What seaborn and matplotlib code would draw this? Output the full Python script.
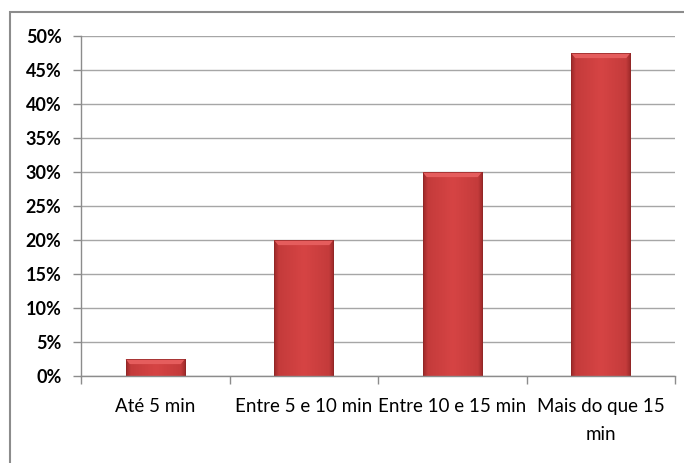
import numpy as np
import pandas as pd
import matplotlib
matplotlib.use("Agg")
import matplotlib.pyplot as plt
import seaborn as sns
from matplotlib.patches import Rectangle, Polygon
from matplotlib.colors import LinearSegmentedColormap
from matplotlib.ticker import FixedLocator, PercentFormatter

categories = ["Até 5 min", "Entre 5 e 10 min", "Entre 10 e 15 min", "Mais do que 15\nmin"]
values = [2.5, 20.0, 30.0, 47.5]
y_ticks = [0, 5, 10, 15, 20, 25, 30, 35, 40, 45, 50]

sns.set_theme(style="white")
plt.rcParams["font.family"] = ["Lato", "DejaVu Sans"]

fig = plt.figure(figsize=(6.84, 4.63), dpi=100)
ax = fig.add_axes([81 / 684, 1 - 376 / 463, (675 - 81) / 684, (376 - 36) / 463])

df = pd.DataFrame({"cat": categories, "val": values})
sns.barplot(data=df, x="cat", y="val", ax=ax, width=0.40, color="#CC3D3D",
            edgecolor="none", saturation=1)

# shaded fill for each bar: darker sides, lighter middle, bright bevel on top
cmap = LinearSegmentedColormap.from_list(
    "bar", [(0.0, "#9A2828"), (0.08, "#C43B3B"), (0.5, "#D64444"),
            (0.92, "#C43B3B"), (1.0, "#9A2828")])
grad = np.linspace(0, 1, 256).reshape(1, -1)
for p in ax.patches:
    x0, y0 = p.get_x(), p.get_y()
    w, h = p.get_width(), p.get_height()
    z = p.get_zorder()
    im = ax.imshow(grad, cmap=cmap, aspect="auto", extent=[x0, x0 + w, y0, y0 + h],
                   zorder=z + 0.1, interpolation="bicubic")
    im.set_clip_path(p)
    bevel = min(h * 0.4, 0.75)
    inset = w * 0.07
    ax.add_patch(Polygon([(x0, y0 + h), (x0 + w, y0 + h),
                          (x0 + w - inset, y0 + h - bevel), (x0 + inset, y0 + h - bevel)],
                         closed=True, facecolor="#E55D5D", edgecolor="none",
                         zorder=z + 0.2))
    ax.add_patch(Rectangle((x0, y0), w, h, facecolor="none", edgecolor="#8E2626",
                           linewidth=0.5, zorder=z + 0.3))

ax.set_xlim(-0.5, len(categories) - 0.5)
ax.set_ylim(0, 50)
ax.set_yticks(y_ticks)
ax.yaxis.set_major_formatter(PercentFormatter(decimals=0))
ax.grid(axis="y", color="#A6A6A6", linewidth=1.0)
ax.set_axisbelow(True)
ax.set_xlabel("")
ax.set_ylabel("")

for side in ["top", "right"]:
    ax.spines[side].set_visible(False)
for side in ["left", "bottom"]:
    ax.spines[side].set_color("#8C8C8C")
    ax.spines[side].set_linewidth(1.0)

ax.xaxis.set_minor_locator(FixedLocator(np.arange(-0.5, len(categories), 1.0)))
ax.tick_params(axis="x", which="major", length=0, pad=16, labelsize=13.5,
               labelcolor="black")
ax.tick_params(axis="x", which="minor", length=6, color="#8C8C8C", width=1.0,
               bottom=True)
ax.tick_params(axis="y", length=6, color="#8C8C8C", width=1.0, left=True,
               labelsize=13, labelcolor="black", pad=8)
for lbl in ax.get_yticklabels():
    lbl.set_fontweight("bold")
for lbl in ax.get_xticklabels():
    lbl.set_linespacing(1.75)

# chart frame
fig.patches.append(Rectangle((10 / 684, -0.01), 1.0, 1 - 12 / 463 + 0.01,
                             transform=fig.transFigure, facecolor="none",
                             edgecolor="#8C8C8C", linewidth=1.5))

fig.savefig("out.png", dpi=100)
